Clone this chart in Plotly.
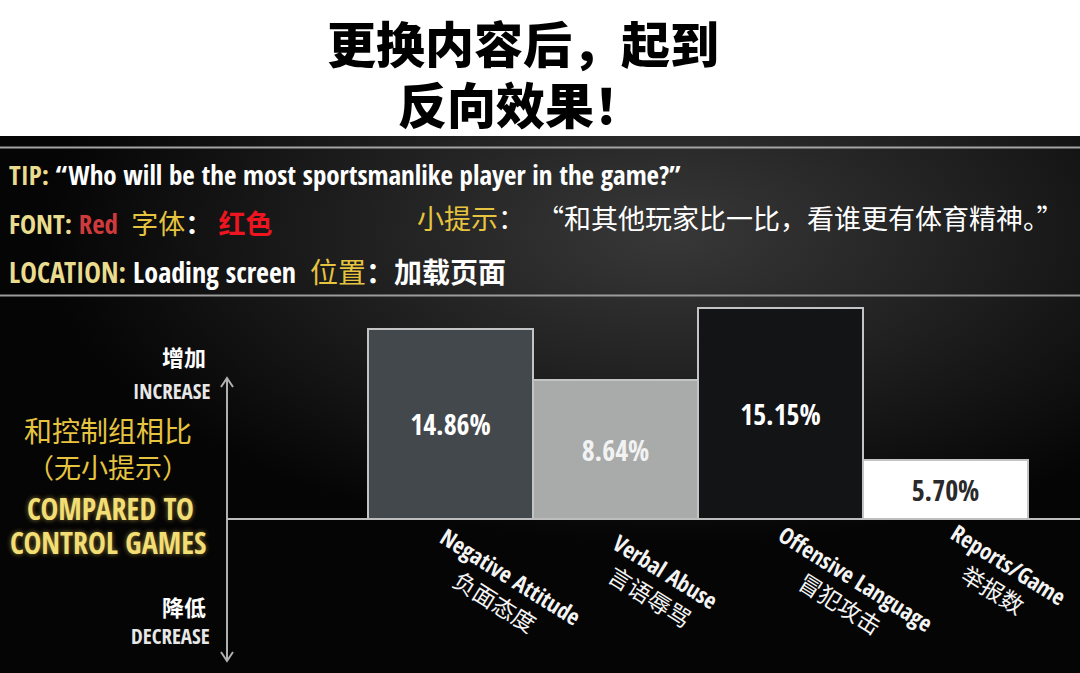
import base64
import plotly.graph_objects as go

# ---------------- data ----------------
categories = ["Negative Attitude", "Verbal Abuse", "Offensive Language", "Reports/Game"]
categories_cn = ["负面态度", "言语辱骂", "冒犯攻击", "举报数"]
value_labels = ["14.86%", "8.64%", "15.15%", "5.70%"]
# displayed bar heights (stylised, not proportional to labels)
bar_heights = [19.0, 13.9, 21.1, 5.9]
bar_colors = ["#43484c", "#a8abaa", "#121416", "#ffffff"]
label_colors = ["#ffffff", "#f2f2f2", "#ffffff", "#2a2a2a"]

W, H = 1080, 673
EN = "Open Sans Condensed, Roboto Condensed, Noto Sans CJK SC, sans-serif"
CN = "Noto Sans CJK SC, sans-serif"
YEL = "#eadc8e"
GOLD = "#e6c440"
WHITE = "#ffffff"

def px(x):
    return x / W

def py(y):
    return 1 - y / H

fig = go.Figure()
fig.add_trace(go.Bar(
    x=categories, y=bar_heights, width=1,
    marker=dict(color=bar_colors, line=dict(color="#c4c4c4", width=2)),
    text=value_labels, textposition="inside", insidetextanchor="middle",
    textangle=0, constraintext="none",
    insidetextfont=dict(family=EN, size=28, weight="bold", color=label_colors),
    hoverinfo="skip",
))

# ---- background gradient panel (svg) ----
svg = """<svg xmlns='http://www.w3.org/2000/svg' width='1080' height='537' viewBox='0 0 1080 537' preserveAspectRatio='none'>
<defs><radialGradient id='g' cx='0.62' cy='0.18' r='0.58'>
<stop offset='0' stop-color='#383838'/>
<stop offset='0.45' stop-color='#222222'/>
<stop offset='1' stop-color='#050505'/>
</radialGradient></defs>
<rect width='1080' height='537' fill='url(#g)'/>
</svg>"""
src = "data:image/svg+xml;base64," + base64.b64encode(svg.encode()).decode()
fig.add_layout_image(dict(source=src, xref="paper", yref="paper", x=0, y=py(136),
                          sizex=1, sizey=537 / H, sizing="stretch", layer="below",
                          xanchor="left", yanchor="top"))

shapes = []
shapes.append(dict(type="line", xref="paper", yref="paper", x0=0, x1=1, y0=py(147.5), y1=py(147.5),
                   line=dict(color="#a4a4a4", width=2)))
shapes.append(dict(type="line", xref="paper", yref="paper", x0=0, x1=1, y0=py(295.5), y1=py(295.5),
                   line=dict(color="#9c9c9c", width=2)))
x_px_per_unit = 165.0
x_left = -0.5 - 368 / x_px_per_unit
x_right = -0.5 + (W - 368) / x_px_per_unit
y_top = 519 / 10.0
y_bot = -(H - 519) / 10.0
x_arrow = x_left + 227 / x_px_per_unit
arrow_top, arrow_bot = 14.1, -14.2
shapes.append(dict(type="line", xref="x", yref="y", x0=x_arrow, x1=x_arrow, y0=arrow_bot, y1=arrow_top,
                   line=dict(color="#b0b0b0", width=2)))
shapes.append(dict(type="line", xref="x", yref="y", x0=x_arrow, x1=x_right, y0=0, y1=0,
                   line=dict(color="#bdbdbd", width=2)))
dx, dy = 6 / x_px_per_unit, 0.9
shapes.append(dict(type="path", xref="x", yref="y",
                   path=f"M {x_arrow-dx},{arrow_top-dy} L {x_arrow},{arrow_top} L {x_arrow+dx},{arrow_top-dy}",
                   line=dict(color="#b0b0b0", width=2)))
shapes.append(dict(type="path", xref="x", yref="y",
                   path=f"M {x_arrow-dx},{arrow_bot+dy} L {x_arrow},{arrow_bot} L {x_arrow+dx},{arrow_bot+dy}",
                   line=dict(color="#b0b0b0", width=2)))

ann = []
def text(x, y, t, size, color=WHITE, family=EN, xanchor="left", align="left", weight="normal", shadow=None):
    f = dict(family=family, size=size, color=color, weight=weight)
    if shadow:
        f["shadow"] = shadow
    ann.append(dict(x=px(x), y=py(y), xref="paper", yref="paper", text=t, showarrow=False,
                    xanchor=xanchor, yanchor="middle", align=align, font=f))

CNS = "font-family:Noto Sans CJK SC"
# title
text(523, 41, "更换内容后，起到", 49, "#000000", CN, "center", "center", 900)
text(520, 102, "反向效果！", 49, "#000000", CN, "center", "center", 900)

# tip block
text(7, 175, f"<span style='color:{YEL}'>TIP:</span> “Who will be the most sportsmanlike player in the game?”", 27, weight="bold")
text(7, 223, f"<span style='color:{YEL}'>FONT:</span> <span style='color:#cf3a3d'>Red</span>"
             f"  <span style='color:{GOLD};{CNS};font-weight:normal'>字体</span>"
             f"<span style='{CNS}'>： </span>"
             f"<span style='color:#ec1520;{CNS}'>红色</span>", 27, weight="bold")
text(415, 218, f"<span style='color:{GOLD}'>小提示</span>：  “和其他玩家比一比，看谁更有体育精神。”", 27, WHITE, CN)
text(7, 271, f"<span style='color:{YEL}'>LOCATION:</span> Loading screen"
             f"  <span style='color:{GOLD};{CNS};font-weight:normal'>位置</span>"
             f"<span style='{CNS}'>：加载页面</span>", 28, weight="bold")

# left side labels
text(208, 356, "增加", 22, WHITE, CN, "right", "right", "bold")
text(212, 391, "INCREASE", 21, "#e8e8e8", EN, "right", "right", "bold")
text(108, 430, "和控制组相比", 28, GOLD, CN, "center", "center")
text(108, 466, "（无小提示）", 27, GOLD, CN, "center", "center")
text(110, 508, "COMPARED TO", 30, "#f2de74", EN, "center", "center", "bold", "0px 0px 5px rgba(240,210,90,0.55)")
text(108, 542, "CONTROL GAMES", 30, "#f2de74", EN, "center", "center", "bold", "0px 0px 5px rgba(240,210,90,0.55)")
text(208, 606, "降低", 22, WHITE, CN, "right", "right", "bold")
text(212, 636, "DECREASE", 21, "#e8e8e8", EN, "right", "right", "bold")

# rotated category labels
xshifts = [52, 42, 67, 55]
yshifts = [-70, -65, -72, -58]
for c, cn, xs, ys in zip(categories, categories_cn, xshifts, yshifts):
    ann.append(dict(x=c, y=0, xref="x", yref="y", showarrow=False,
                    text=f"<b>{c}</b><br><span style='{CNS}'>{cn}</span>",
                    textangle=32, xshift=xs, yshift=ys, xanchor="center", yanchor="middle",
                    align="center", font=dict(family=EN, size=23, color="#f4f4f4")))

fig.update_layout(
    width=W, height=H, margin=dict(l=0, r=0, t=0, b=0),
    paper_bgcolor="#ffffff", plot_bgcolor="rgba(0,0,0,0)",
    showlegend=False, bargap=0,
    xaxis=dict(range=[x_left, x_right], visible=False, fixedrange=True),
    yaxis=dict(range=[y_bot, y_top], visible=False, fixedrange=True),
    shapes=shapes, annotations=ann,
)
fig.write_html("out.html", config={"displayModeBar": False},
               post_script="document.body.style.margin='0';")
